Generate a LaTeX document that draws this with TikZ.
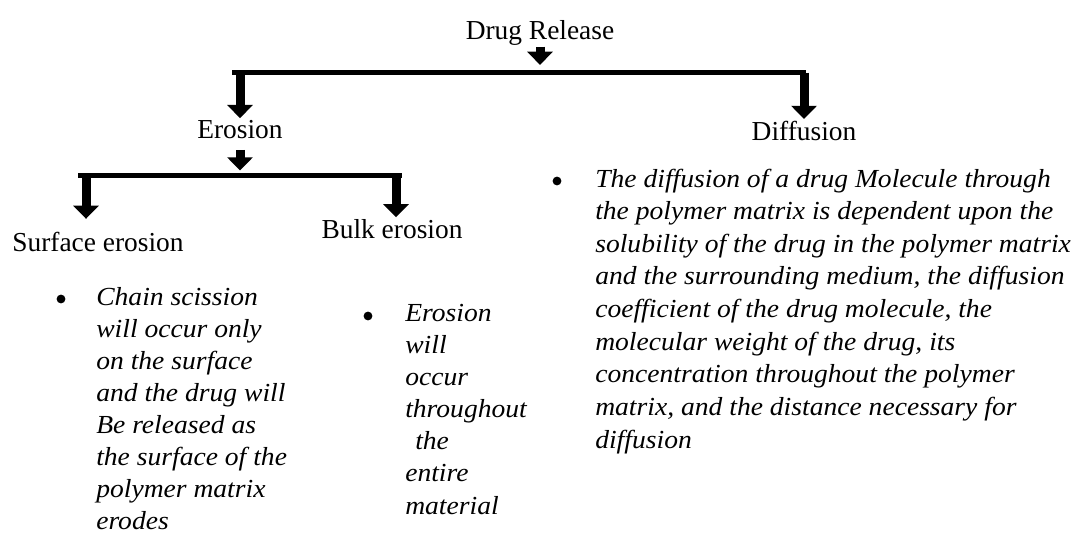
\documentclass[tikz,border=0pt]{standalone}
\usepackage{fontspec}
\setmainfont{Liberation Serif}[ItalicFeatures={FakeStretch=1.06}]
\usetikzlibrary{arrows.meta}

\tikzset{
lbl/.style={font=\fontsize{19.5}{23}\selectfont, inner sep=1pt, anchor=base},
note/.style={font=\fontsize{18.5}{22.8}\selectfont\itshape, align=left, inner sep=0pt, anchor=base west},
bar/.style={line width=0.125cm},
blockarrow/.style={line width=0.225cm, -{Triangle[width=0.625cm,length=0.33cm]}},
dot/.style={circle, fill, inner sep=0pt, minimum size=0.22cm}
}

\begin{document}
\begin{tikzpicture}[x=0.025cm,y=-0.025cm]
\useasboundingbox (0,0) rectangle (1082,534);

% headings
\node[lbl] (release) at (540,39) {Drug Release};
\node[lbl] (erosion) at (240,138) {Erosion};
\node[lbl] (diffusion) at (804,140) {Diffusion};
\node[lbl] (surface) at (98,251) {Surface erosion};
\node[lbl] (bulk) at (392,238) {Bulk erosion};

% bars
\coordinate (bar1l) at (232,72.5);
\coordinate (bar1r) at (806,72.5);
\coordinate (bar2l) at (78,175.5);
\coordinate (bar2r) at (402,175.5);
\coordinate (d1) at (86,175.5);
\coordinate (d2) at (396,175.5);
\draw[bar] (bar1l) -- (bar1r);
\draw[bar] (bar2l) -- (bar2r);

% arrows
\draw[blockarrow, shorten >=0.19cm] (release.south) -- (release.south |- bar1l);
\draw[blockarrow] (erosion.north |- bar1l) -- (erosion.north);
\draw[blockarrow] (diffusion.north |- bar1r) -- (diffusion.north);
\draw[blockarrow, shorten <=0.25cm, shorten >=0.125cm] (erosion.south) -- (erosion.south |- bar2l);
\draw[blockarrow, shorten >=0.28cm] (d1) -- (d1 |- surface.north);
\draw[blockarrow] (d2) -- (d2 |- bulk.north);

% notes (anchored at the baseline of their last line)
\node[dot] (surfdot) at (61,299) {};
\node[note] (surfnote) at (96,529.5) {Chain scission\\will occur only\\on the surface\\and the drug will\\Be released as\\the surface of the\\polymer matrix\\erodes};
\node[dot] (bulkdot) at (368,316) {};
\node[note] (bulknote) at (405,514) {Erosion\\will\\occur\\throughout\\\hspace{0.25cm}the\\entire\\material};
\node[dot] (diffdot) at (557,181) {};
\node[note, font=\fontsize{18.5}{23.2}\selectfont\itshape] (diffnote) at (595,448) {The diffusion of a drug Molecule through\\the polymer matrix is dependent upon the\\solubility of the drug in the polymer matrix\\and the surrounding medium, the diffusion\\coefficient of the drug molecule, the\\molecular weight of the drug, its\\concentration throughout the polymer\\matrix, and the distance necessary for\\diffusion};
\end{tikzpicture}
\end{document}
